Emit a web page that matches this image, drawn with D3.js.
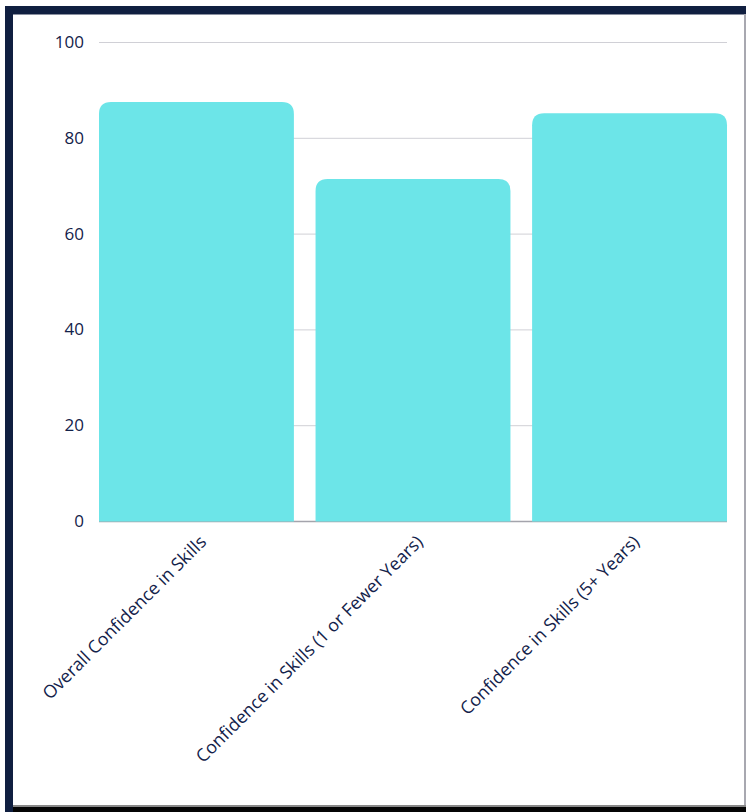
<!DOCTYPE html>
<html>
<head>
<meta charset="utf-8">
<script src="https://cdn.jsdelivr.net/npm/d3@7"></script>
<style>
  html, body { margin: 0; padding: 0; background: #ffffff; }
  svg { display: block; }
</style>
</head>
<body>
<svg id="chart" width="746" height="812"></svg>
<script>
const categories = [
  "Overall Confidence in Skills",
  "Confidence in Skills (1 or Fewer Years)",
  "Confidence in Skills (5+ Years)"
];
const values = [87.5, 71.4, 85.1];
const yTicks = [0, 20, 40, 60, 80, 100];

const W = 746, H = 812;
const margin = { left: 99, right: 19, top: 42, bottom: 291 };
const svg = d3.select("#chart");
const textColor = "#13224a";
const font = "'Open Sans', 'Noto Sans', sans-serif";

// frame
svg.append("rect").attr("x", 0).attr("y", 0).attr("width", W).attr("height", H).attr("fill", "#ffffff");
svg.append("rect").attr("x", 5).attr("y", 6).attr("width", W - 5).attr("height", 8).attr("fill", "#101f40");
svg.append("rect").attr("x", 5).attr("y", 6).attr("width", 8).attr("height", H - 6).attr("fill", "#101f40");
svg.append("rect").attr("x", 13).attr("y", 14).attr("width", W - 13).attr("height", 1).attr("fill", "#8a90a0");
svg.append("rect").attr("x", 744).attr("y", 14).attr("width", 2).attr("height", 792).attr("fill", "#a8a8b0");
svg.append("rect").attr("x", 13).attr("y", 805).attr("width", W - 13).attr("height", 2).attr("fill", "#888888");
svg.append("rect").attr("x", 13).attr("y", 807).attr("width", W - 13).attr("height", 5).attr("fill", "#050505");

const x = d3.scaleBand()
  .domain(categories)
  .range([margin.left, W - margin.right])
  .paddingInner(0.1)
  .paddingOuter(0);

const y = d3.scaleLinear()
  .domain([0, 100])
  .range([H - margin.bottom, margin.top]);

// gridlines
const grid = svg.append("g")
  .attr("transform", `translate(${margin.left},0)`)
  .call(d3.axisLeft(y).tickValues(yTicks).tickSize(-(W - margin.right - margin.left)).tickFormat(""));
grid.select(".domain").remove();
grid.selectAll("line").attr("stroke", "#d0d0d6").attr("stroke-width", 1);

// baseline
svg.append("line")
  .attr("x1", margin.left).attr("x2", W - margin.right)
  .attr("y1", y(0) + 0.5).attr("y2", y(0) + 0.5)
  .attr("stroke", "#a4a4ac").attr("stroke-width", 1.5);

// bars with rounded top corners
const r = 12;
svg.append("g").selectAll("path")
  .data(values)
  .join("path")
  .attr("fill", "#6ce5e8")
  .attr("d", (d, i) => {
    const x0 = x(categories[i]), w = x.bandwidth();
    const yt = y(d), yb = y(0) + 0.5;
    return `M${x0},${yb} L${x0},${yt + r} Q${x0},${yt} ${x0 + r},${yt} L${x0 + w - r},${yt} Q${x0 + w},${yt} ${x0 + w},${yt + r} L${x0 + w},${yb} Z`;
  });

// y axis labels
const yAxis = svg.append("g")
  .attr("transform", `translate(${margin.left},0)`)
  .call(d3.axisLeft(y).tickValues(yTicks).tickSize(0).tickPadding(15));
yAxis.select(".domain").remove();
yAxis.selectAll("text")
  .attr("fill", textColor)
  .style("font-family", font)
  .style("font-size", "17px");

// x axis labels
const xAxis = svg.append("g")
  .attr("transform", `translate(0,${y(0)})`)
  .call(d3.axisBottom(x).tickSize(0).tickPadding(0));
xAxis.select(".domain").remove();
xAxis.selectAll("text")
  .attr("fill", textColor)
  .style("font-family", font)
  .style("font-size", "17.8px")
  .attr("text-anchor", "end")
  .attr("dy", "0")
  .attr("y", 0)
  .attr("transform", "translate(11,22) rotate(-45)");
</script>
</body>
</html>
